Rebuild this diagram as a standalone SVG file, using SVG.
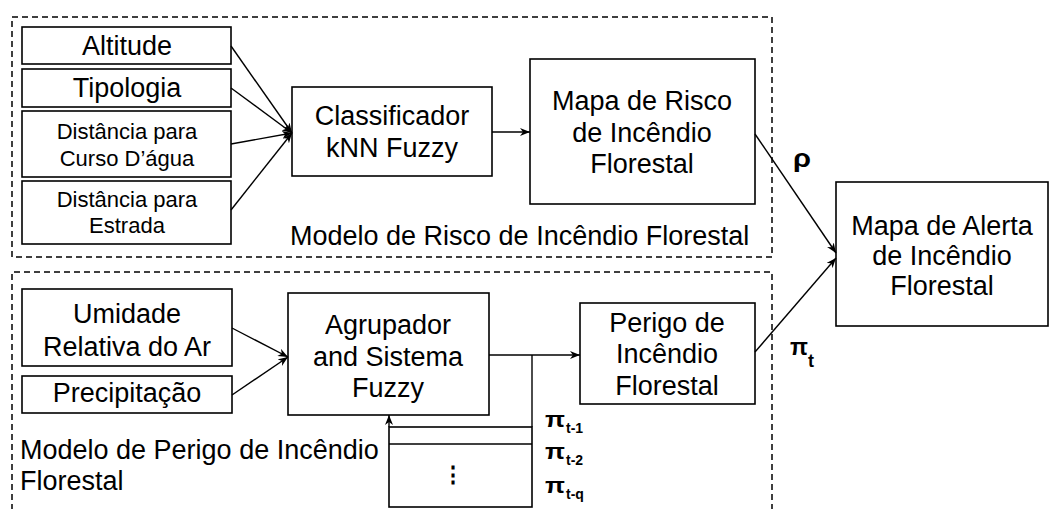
<svg xmlns="http://www.w3.org/2000/svg" width="1049" height="509" viewBox="0 0 1049 509">
  <style>
    .box { fill: #ffffff; stroke: #000000; stroke-width: 1.6; }
    .frame { fill: none; stroke: #000000; stroke-width: 1.5; stroke-dasharray: 6 4; }
    .edge { fill: none; stroke: #000000; stroke-width: 1.4; }
    .lbl { font-family: "Liberation Sans", Arial, sans-serif; font-size: 27px; fill: #000000; }
    .c { text-anchor: middle; }
    .sm { font-size: 22px; }
    .sym { font-family: "Liberation Sans", Arial, sans-serif; font-weight: bold; fill: #000000; }
    .pi { font-size: 22px; }
    .sub { font-size: 14px; }
  </style>
  <defs>
    <marker id="arrow" viewBox="0 0 10 8" refX="10" refY="4" markerWidth="10" markerHeight="8" markerUnits="userSpaceOnUse" orient="auto">
      <path d="M0,0 L10,4 L0,8 L3,4 Z" fill="#000000"/>
    </marker>
  </defs>

  <rect width="1049" height="509" fill="#ffffff"/>

  <!-- model frames -->
  <g id="risk-model">
    <rect class="frame" x="12" y="17" width="760" height="240"/>
    <text class="lbl" x="290" y="245">Modelo de Risco de Incêndio Florestal</text>
  </g>
  <g id="danger-model">
    <path class="frame" d="M12,520 L12,272 L772,272 L772,520"/>
    <text class="lbl" x="20" y="459">Modelo de Perigo de Incêndio</text>
    <text class="lbl" x="20" y="490">Florestal</text>
  </g>

  <!-- risk inputs -->
  <g id="altitude">
    <rect class="box" x="22" y="27" width="209" height="37"/>
    <text class="lbl c" x="127" y="55">Altitude</text>
  </g>
  <g id="tipologia">
    <rect class="box" x="22" y="69" width="209" height="38"/>
    <text class="lbl c" x="127" y="97">Tipologia</text>
  </g>
  <g id="dist-curso">
    <rect class="box" x="22" y="111" width="209" height="66"/>
    <text class="lbl c sm" x="127" y="139">Distância para</text>
    <text class="lbl c sm" x="127" y="166">Curso D’água</text>
  </g>
  <g id="dist-estrada">
    <rect class="box" x="22" y="181" width="209" height="63"/>
    <text class="lbl c sm" x="127" y="207">Distância para</text>
    <text class="lbl c sm" x="127" y="233">Estrada</text>
  </g>

  <g id="classificador">
    <rect class="box" x="292" y="87" width="200" height="89"/>
    <text class="lbl c" x="392" y="125">Classificador</text>
    <text class="lbl c" x="392" y="157">kNN Fuzzy</text>
  </g>

  <g id="mapa-risco">
    <rect class="box" x="530" y="59" width="225" height="145"/>
    <text class="lbl c" x="642" y="110">Mapa de Risco</text>
    <text class="lbl c" x="642" y="142">de Incêndio</text>
    <text class="lbl c" x="642" y="173">Florestal</text>
  </g>

  <g id="mapa-alerta">
    <rect class="box" x="836" y="182" width="212" height="144"/>
    <text class="lbl c" x="942" y="235">Mapa de Alerta</text>
    <text class="lbl c" x="942" y="265">de Incêndio</text>
    <text class="lbl c" x="942" y="295">Florestal</text>
  </g>

  <!-- danger inputs -->
  <g id="umidade">
    <rect class="box" x="22" y="289" width="210" height="77"/>
    <text class="lbl c" x="127" y="323">Umidade</text>
    <text class="lbl c" x="127" y="356">Relativa do Ar</text>
  </g>
  <g id="precipitacao">
    <rect class="box" x="22" y="376" width="210" height="37"/>
    <text class="lbl c" x="127" y="402">Precipitação</text>
  </g>

  <g id="agrupador">
    <rect class="box" x="288" y="293" width="201" height="122"/>
    <text class="lbl c" x="388" y="334">Agrupador</text>
    <text class="lbl c" x="388" y="366">and Sistema</text>
    <text class="lbl c" x="388" y="397">Fuzzy</text>
  </g>

  <g id="perigo">
    <rect class="box" x="580" y="303" width="175" height="101"/>
    <text class="lbl c" x="667" y="332">Perigo de</text>
    <text class="lbl c" x="667" y="363">Incêndio</text>
    <text class="lbl c" x="667" y="395">Florestal</text>
  </g>

  <!-- past danger values buffer -->
  <g id="historico">
    <rect class="box" x="389" y="427" width="143" height="80"/>
    <line class="edge" x1="389" y1="444" x2="532" y2="444"/>
    <text class="sym c" x="453" y="482" style="font-size:22px">⋮</text>
    <text class="sym pi" x="545" y="427" textLength="20" lengthAdjust="spacingAndGlyphs">π</text>
    <text class="sym sub" x="566" y="433">t-1</text>
    <text class="sym pi" x="545" y="459" textLength="20" lengthAdjust="spacingAndGlyphs">π</text>
    <text class="sym sub" x="566" y="465">t-2</text>
    <text class="sym pi" x="545" y="493" textLength="20" lengthAdjust="spacingAndGlyphs">π</text>
    <text class="sym sub" x="566" y="499">t-q</text>
  </g>

  <!-- connectors -->
  <g id="connectors">
    <line class="edge" x1="231" y1="46" x2="292" y2="133" marker-end="url(#arrow)"/>
    <line class="edge" x1="231" y1="88" x2="292" y2="133" marker-end="url(#arrow)"/>
    <line class="edge" x1="231" y1="144" x2="292" y2="133" marker-end="url(#arrow)"/>
    <line class="edge" x1="231" y1="210" x2="292" y2="133" marker-end="url(#arrow)"/>
    <line class="edge" x1="492" y1="132" x2="530" y2="132" marker-end="url(#arrow)"/>
    <line class="edge" x1="755" y1="134" x2="836" y2="253" marker-end="url(#arrow)"/>
    <line class="edge" x1="232" y1="328" x2="288" y2="357" marker-end="url(#arrow)"/>
    <line class="edge" x1="232" y1="395" x2="288" y2="357" marker-end="url(#arrow)"/>
    <line class="edge" x1="489" y1="355" x2="580" y2="355" marker-end="url(#arrow)"/>
    <line class="edge" x1="532" y1="355" x2="532" y2="427"/>
    <line class="edge" x1="389" y1="427" x2="389" y2="415" marker-end="url(#arrow)"/>
    <line class="edge" x1="755" y1="352" x2="836" y2="258" marker-end="url(#arrow)"/>
    <text class="sym" x="793" y="167" style="font-size:26px" textLength="18" lengthAdjust="spacingAndGlyphs">ρ</text>
    <text class="sym" x="790" y="355" style="font-size:24px" textLength="18" lengthAdjust="spacingAndGlyphs">π</text>
    <text class="sym" x="808" y="367" style="font-size:18px">t</text>
  </g>
</svg>
